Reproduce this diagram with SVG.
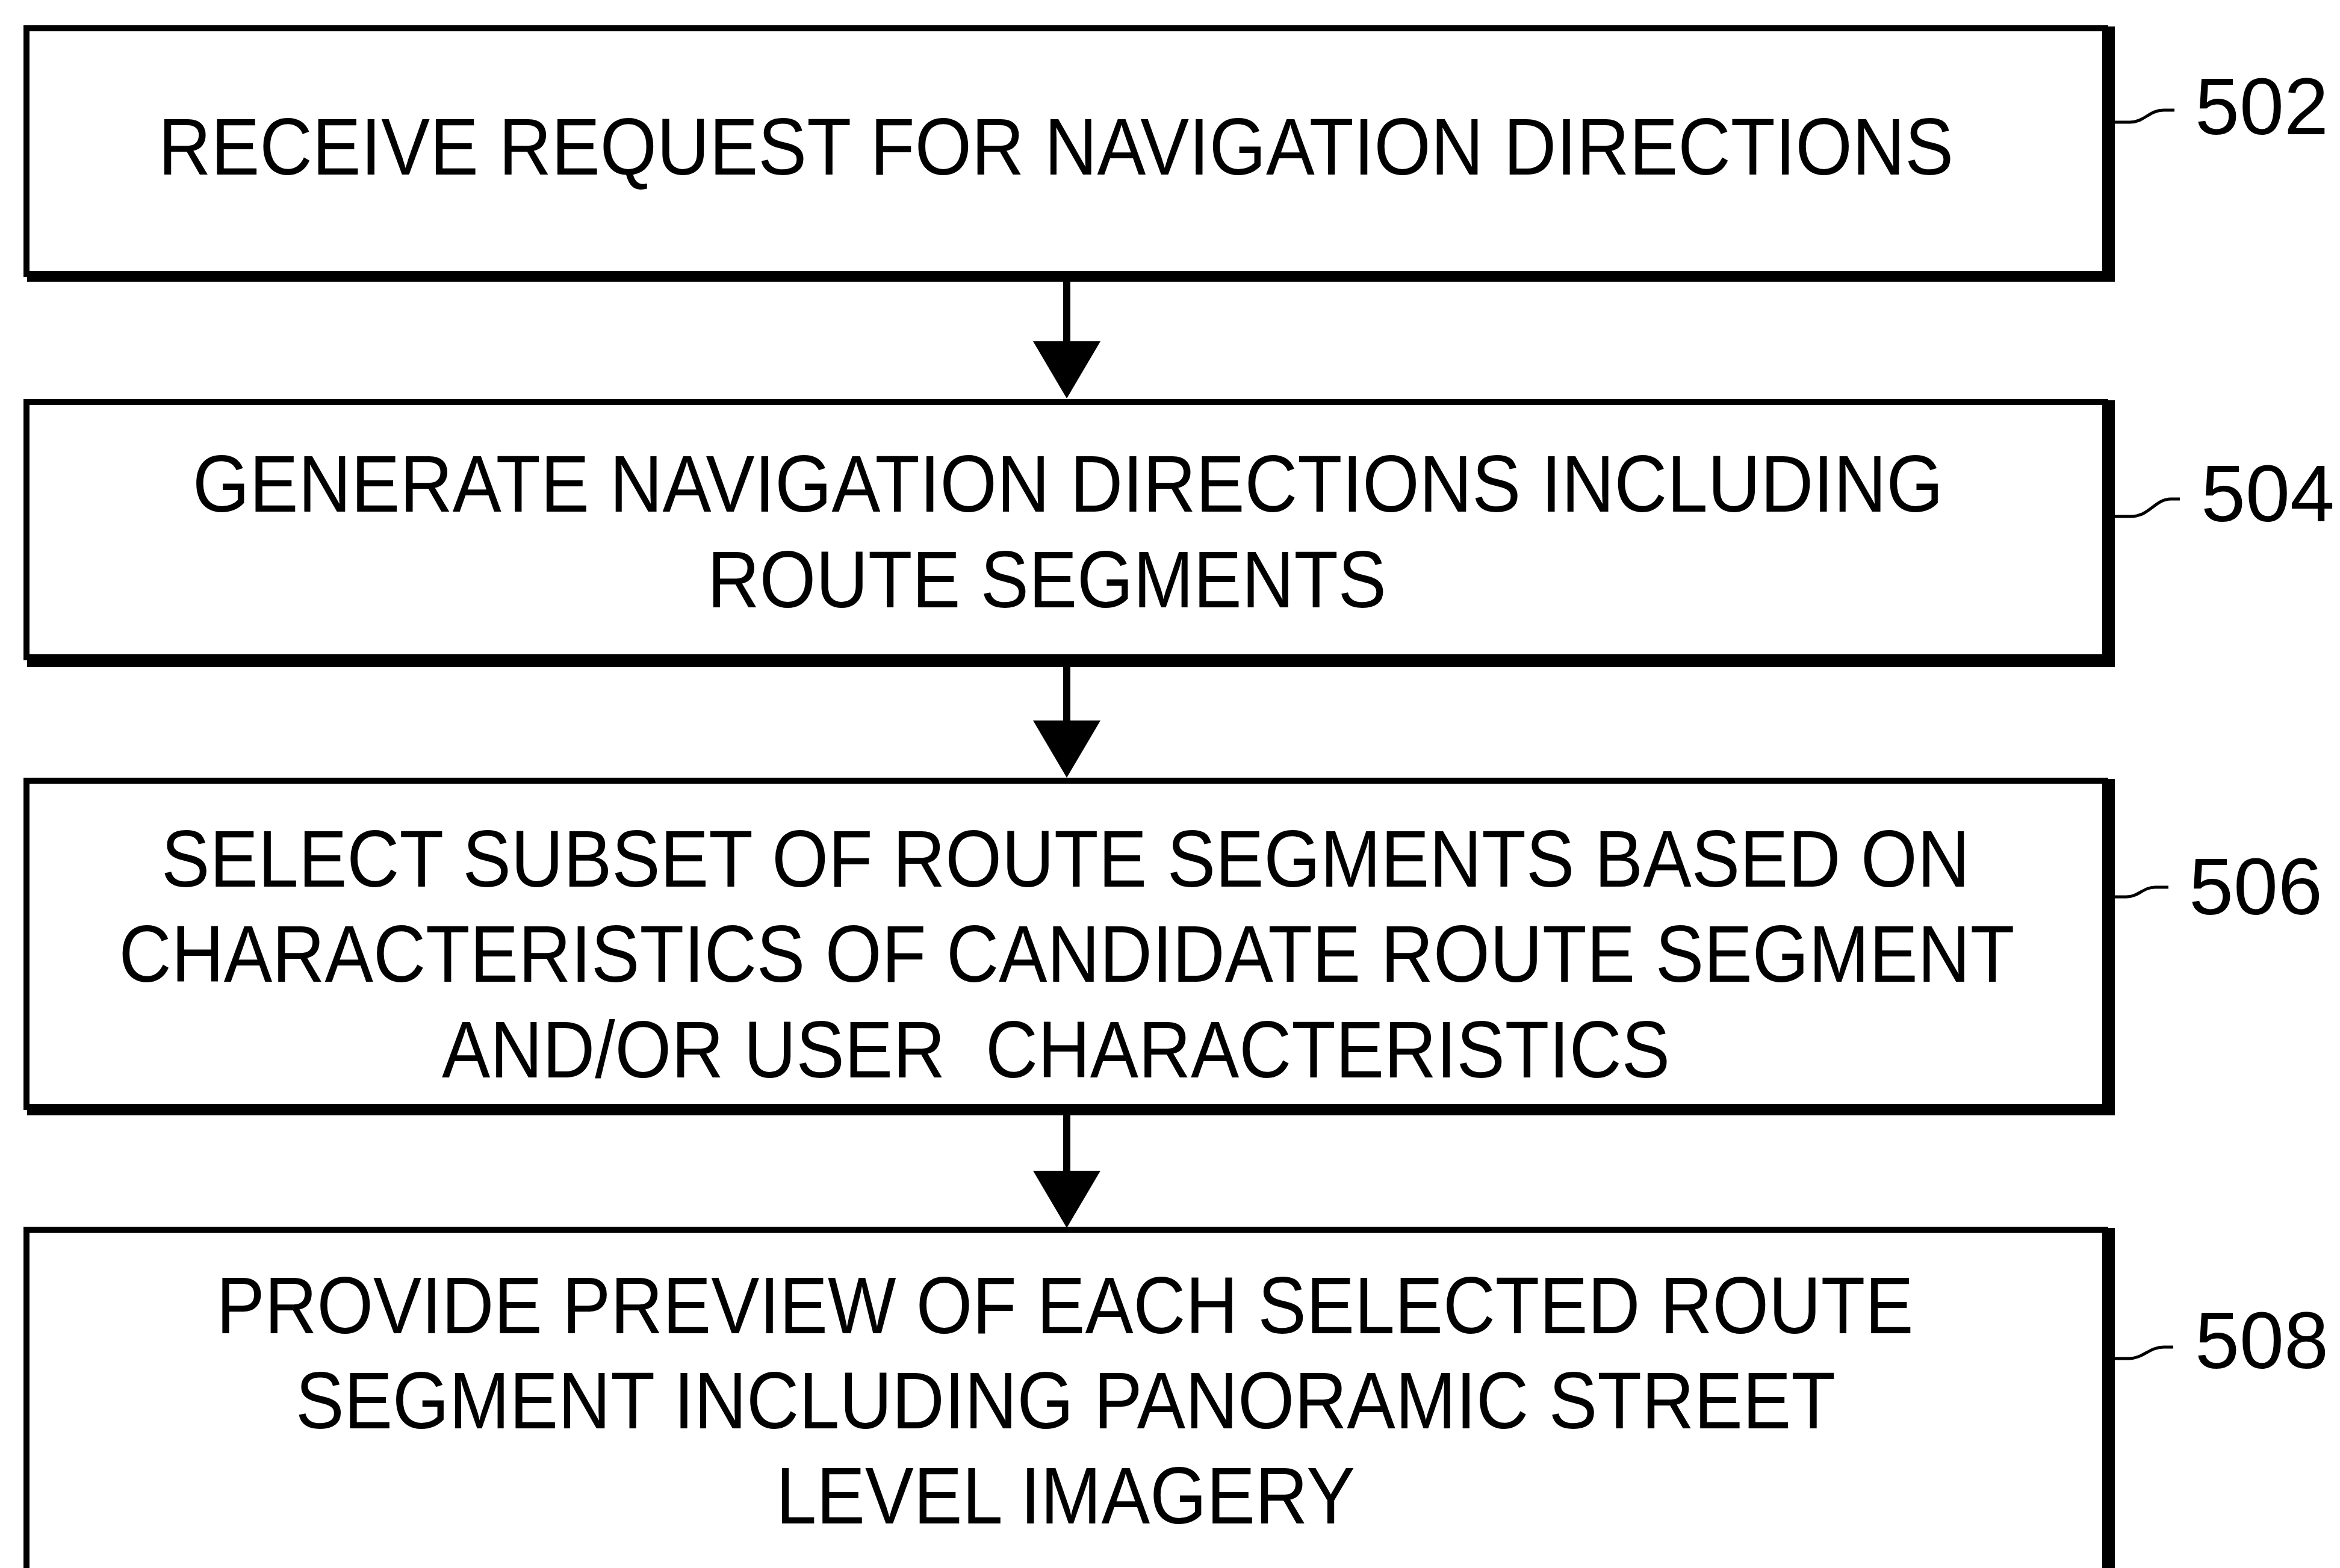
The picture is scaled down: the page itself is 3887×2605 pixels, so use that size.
<svg xmlns="http://www.w3.org/2000/svg" width="3887" height="2605" viewBox="0 0 3887 2605">
<style>
.frame{fill:#fff;stroke:#000;stroke-width:10}
.shadow{fill:#000}
.t{font-family:"Liberation Sans",Arial,sans-serif;font-size:134px;fill:#000;text-anchor:middle;white-space:pre}
.lbl{font-family:"Liberation Sans",Arial,sans-serif;font-size:133px;fill:#000}
.conn{stroke:#000;stroke-width:12;fill:none}
.leader{stroke:#000;stroke-width:5;fill:none}
</style>
<defs>
<path id="head" d="M-56,0 L56,0 L0,95 Z" fill="#000"/>
</defs>
<rect width="3887" height="2605" fill="#fff"/>
<g id="n502">
<rect class="shadow" x="45" y="44" width="3468" height="424"/>
<rect class="frame" x="44" y="47" width="3453" height="408"/>
<text class="t" x="1754" y="290" textLength="2982" lengthAdjust="spacingAndGlyphs">RECEIVE REQUEST FOR NAVIGATION DIRECTIONS</text>
<path class="leader" d="M3513,203 L3538,203 C3562,203 3570,183 3594,183 L3612,183"/>
<text class="lbl" x="3646" y="223">502</text>
</g>
<g id="n504">
<rect class="shadow" x="45" y="665" width="3468" height="443"/>
<rect class="frame" x="44" y="668" width="3453" height="424"/>
<text class="t" x="1774" y="850" textLength="2908" lengthAdjust="spacingAndGlyphs">GENERATE NAVIGATION DIRECTIONS INCLUDING</text>
<text class="t" x="1739" y="1009" textLength="1128" lengthAdjust="spacingAndGlyphs">ROUTE SEGMENTS</text>
<path class="leader" d="M3513,858 L3540,858 C3570,858 3580,829 3606,829 L3621,829"/>
<text class="lbl" x="3656" y="866">504</text>
</g>
<g id="n506">
<rect class="shadow" x="45" y="1294" width="3468" height="559"/>
<rect class="frame" x="44" y="1297" width="3453" height="542"/>
<text class="t" x="1770" y="1473" textLength="3004" lengthAdjust="spacingAndGlyphs">SELECT SUBSET OF ROUTE SEGMENTS BASED ON</text>
<text class="t" x="1772" y="1631" textLength="3149" lengthAdjust="spacingAndGlyphs">CHARACTERISTICS OF CANDIDATE ROUTE SEGMENT</text>
<text class="t" x="1754" y="1790" textLength="2040" lengthAdjust="spacingAndGlyphs">AND/OR USER  CHARACTERISTICS</text>
<path class="leader" d="M3513,1490 L3532,1490 C3552,1490 3560,1474 3580,1474 L3602,1474"/>
<text class="lbl" x="3636" y="1519">506</text>
</g>
<g id="n508">
<rect class="shadow" x="45" y="2040" width="3468" height="620"/>
<rect class="frame" x="44" y="2043" width="3453" height="620"/>
<text class="t" x="1769" y="2215" textLength="2819" lengthAdjust="spacingAndGlyphs">PROVIDE PREVIEW OF EACH SELECTED ROUTE</text>
<text class="t" x="1770" y="2373" textLength="2558" lengthAdjust="spacingAndGlyphs">SEGMENT INCLUDING PANORAMIC STREET</text>
<text class="t" x="1770" y="2531" textLength="962" lengthAdjust="spacingAndGlyphs">LEVEL IMAGERY</text>
<path class="leader" d="M3513,2257 L3536,2257 C3560,2257 3570,2238 3594,2238 L3610,2238"/>
<text class="lbl" x="3646" y="2273">508</text>
</g>
<g id="connectors">
<line class="conn" x1="1772" y1="468" x2="1772" y2="572"/>
<use href="#head" x="1772" y="567"/>
<line class="conn" x1="1772" y1="1108" x2="1772" y2="1202"/>
<use href="#head" x="1772" y="1197"/>
<line class="conn" x1="1772" y1="1853" x2="1772" y2="1950"/>
<use href="#head" x="1772" y="1945"/>
</g>
</svg>
